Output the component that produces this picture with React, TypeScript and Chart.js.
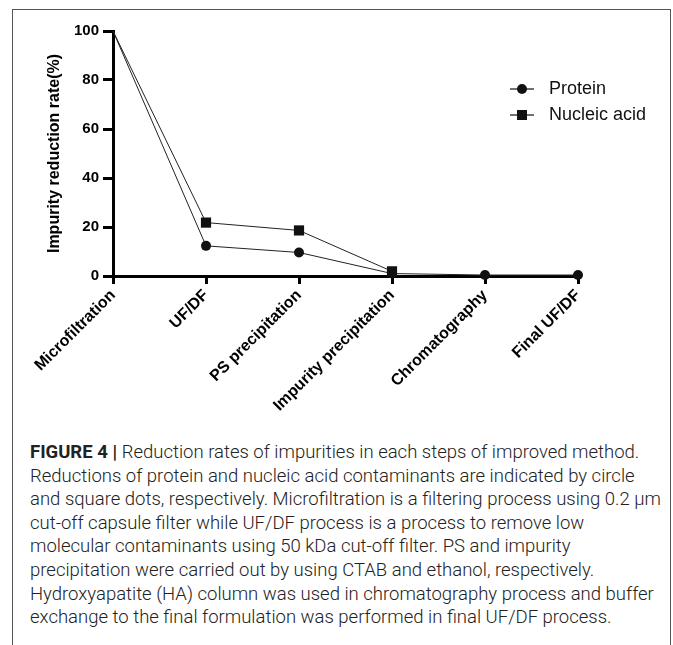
import React, { useEffect, useRef } from "react";
import { Chart, registerables } from "chart.js";

Chart.register(...registerables);

const steps = [
  "Microfiltration",
  "UF/DF",
  "PS precipitation",
  "Impurity precipitation",
  "Chromatography",
  "Final UF/DF",
];
const protein = [100, 12.3, 9.6, 1.0, 0.4, 0.4];
const nucleicAcid = [100, 21.8, 18.6, 1.9, null, null];
const seriesLabels = ["Protein", "Nucleic acid"];
const yTitle = "Impurity reduction rate(%)";
const yMin = 0;
const yMax = 100;
const yStep = 20;

const captionLines = [
  "Reduction rates of impurities in each steps of improved method.",
  "Reductions of protein and nucleic acid contaminants are indicated by circle",
  "and square dots, respectively. Microfiltration is a filtering process using 0.2 \u03bcm",
  "cut-off capsule filter while UF/DF process is a process to remove low",
  "molecular contaminants using 50 kDa cut-off filter. PS and impurity",
  "precipitation were carried out by using CTAB and ethanol, respectively.",
  "Hydroxyapatite (HA) column was used in chromatography process and buffer",
  "exchange to the final formulation was performed in final UF/DF process.",
];

const FONT = '"Liberation Sans", Arial, Helvetica, sans-serif';

const insetLegend = {
  id: "insetLegend",
  afterDraw(chart: any) {
    const ctx = chart.ctx;
    ctx.save();
    chart.data.datasets.forEach((ds: any, i: number) => {
      const y = 89 + i * 26;
      const x0 = 510;
      const x1 = 534;
      const xm = (x0 + x1) / 2;
      ctx.strokeStyle = "#111";
      ctx.lineWidth = 1.2;
      ctx.beginPath();
      ctx.moveTo(x0, y);
      ctx.lineTo(x1, y);
      ctx.stroke();
      ctx.fillStyle = "#111";
      if (ds.pointStyle === "rect") {
        ctx.fillRect(xm - 5, y - 5, 10, 10);
      } else {
        ctx.beginPath();
        ctx.arc(xm, y, 5, 0, Math.PI * 2);
        ctx.fill();
      }
      ctx.font = `18px ${FONT}`;
      ctx.textBaseline = "middle";
      ctx.textAlign = "left";
      ctx.fillText(ds.label, 549, y);
    });
    ctx.restore();
  },
};

export default function App() {
  const ref = useRef<HTMLCanvasElement | null>(null);

  useEffect(() => {
    if (!ref.current) return;
    const chart = new Chart(ref.current, {
      type: "line",
      data: {
        labels: steps,
        datasets: [
          {
            label: seriesLabels[0],
            data: protein,
            borderColor: "#222",
            backgroundColor: "#111",
            borderWidth: 1,
            pointStyle: "circle",
            pointRadius: (c: any) => (c.dataIndex === 0 ? 0 : 5),
            pointBorderWidth: 0,
            pointBackgroundColor: "#111",
            order: 1,
            clip: false,
          },
          {
            label: seriesLabels[1],
            data: nucleicAcid,
            borderColor: "#222",
            backgroundColor: "#111",
            borderWidth: 1,
            pointStyle: "rect",
            pointRadius: (c: any) => (c.dataIndex === 0 ? 0 : 7.2),
            pointBorderWidth: 0,
            pointBackgroundColor: "#111",
            spanGaps: false,
            order: 0,
            clip: false,
          },
        ],
      },
      options: {
        animation: false,
        responsive: false,
        devicePixelRatio: 1,
        layout: { padding: { left: 0, top: 31, right: 95, bottom: 0 } },
        plugins: {
          legend: { display: false },
          tooltip: { enabled: false },
        },
        scales: {
          x: {
            type: "category",
            offset: false,
            grid: {
              drawOnChartArea: false,
              drawTicks: true,
              tickLength: 8,
              tickWidth: 3,
              tickColor: "#000",
            },
            border: { display: true, color: "#000", width: 3 },
            ticks: {
              maxRotation: 45,
              minRotation: 45,
              autoSkip: false,
              padding: 2,
              color: "#000",
              font: { family: FONT, size: 16, weight: "bold" },
            },
            afterFit: (s: any) => {
              s.height = 164;
            },
          },
          y: {
            min: yMin,
            max: yMax,
            ticks: {
              stepSize: yStep,
              padding: 4,
              color: "#000",
              font: { family: FONT, size: 15, weight: "bold" },
            },
            grid: {
              drawOnChartArea: false,
              drawTicks: true,
              tickLength: 10,
              tickWidth: 3,
              tickColor: "#000",
            },
            border: { display: true, color: "#000", width: 3 },
            title: {
              display: true,
              text: yTitle,
              color: "#000",
              padding: { top: 45, bottom: 0 },
              font: { family: FONT, size: 16, weight: "bold" },
            },
            afterFit: (s: any) => {
              s.width = 113;
            },
          },
        },
      },
      plugins: [insetLegend],
    } as any);
    return () => chart.destroy();
  }, []);

  return (
    <div
      style={{
        position: "fixed",
        left: 0,
        top: 0,
        width: 673,
        height: 645,
        background: "#fff",
        overflow: "hidden",
      }}
    >
      <div
        style={{
          position: "absolute",
          left: 12,
          top: 9,
          width: 659,
          height: 700,
          border: "1.5px solid #555",
          boxSizing: "border-box",
        }}
      />
      <div style={{ position: "absolute", left: 0, top: 0, width: 673, height: 440 }}>
        <canvas ref={ref} width={673} height={440} style={{ width: 673, height: 440, display: "block" }} />
      </div>
      <div
        style={{
          position: "absolute",
          left: 30,
          top: 441,
          fontFamily: "Roboto, " + FONT,
          fontWeight: 300,
          fontSize: 18.5,
          lineHeight: "23.6px",
          color: "#222",
          whiteSpace: "nowrap",
        }}
      >
        {captionLines.map((line, i) => (
          <div key={i}>
            {i === 0 ? (
              <>
                <span style={{ fontWeight: 700 }}>FIGURE 4 </span>
                <span style={{ fontWeight: 700 }}>| </span>
              </>
            ) : null}
            {line}
          </div>
        ))}
      </div>
    </div>
  );
}
